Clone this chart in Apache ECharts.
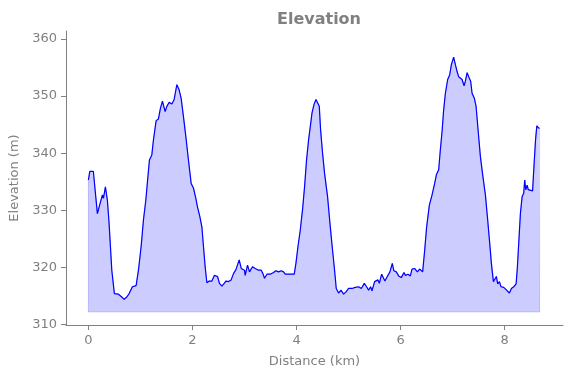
<!DOCTYPE html>
<html>
<head>
<meta charset="utf-8">
<script src="https://cdn.jsdelivr.net/npm/echarts@6/dist/echarts.min.js"></script>
<style>html,body{margin:0;padding:0;background:#fff}#c{width:571px;height:378px}</style>
</head>
<body>
<div id="c"></div>
<script>
const distanceKm = [0,0.027,0.096,0.173,0.225,0.27,0.29,0.327,0.365,0.398,0.45,0.5,0.577,0.642,0.687,0.738,0.783,0.82,0.846,0.917,0.962,1.013,1.058,1.104,1.135,1.173,1.219,1.25,1.302,1.346,1.385,1.423,1.456,1.475,1.508,1.552,1.604,1.648,1.7,1.744,1.783,1.827,1.873,1.923,1.975,2.019,2.065,2.096,2.142,2.181,2.212,2.244,2.277,2.321,2.373,2.423,2.481,2.519,2.565,2.61,2.642,2.692,2.744,2.788,2.835,2.86,2.898,2.937,3.0,3.013,3.058,3.096,3.129,3.154,3.206,3.269,3.321,3.354,3.385,3.431,3.494,3.558,3.604,3.654,3.706,3.75,3.783,3.846,3.91,3.956,3.988,4.027,4.071,4.115,4.154,4.192,4.231,4.269,4.296,4.335,4.373,4.404,4.437,4.462,4.5,4.538,4.552,4.596,4.642,4.692,4.731,4.763,4.808,4.854,4.904,4.95,5.0,5.065,5.129,5.192,5.244,5.302,5.346,5.385,5.423,5.45,5.5,5.565,5.59,5.635,5.673,5.698,5.744,5.794,5.84,5.87,5.917,5.962,6.013,6.065,6.09,6.142,6.187,6.219,6.269,6.321,6.365,6.423,6.462,6.5,6.552,6.604,6.654,6.687,6.731,6.763,6.796,6.827,6.86,6.904,6.942,6.975,7.019,7.052,7.085,7.115,7.148,7.181,7.219,7.244,7.277,7.308,7.346,7.373,7.417,7.45,7.488,7.533,7.577,7.615,7.629,7.673,7.712,7.744,7.783,7.821,7.84,7.865,7.898,7.929,7.981,8.027,8.065,8.09,8.129,8.173,8.219,8.244,8.269,8.302,8.335,8.365,8.385,8.404,8.431,8.452,8.481,8.535,8.565,8.592,8.617,8.654,8.67];
const elevationM = [335.3,336.8,336.8,329.4,331.2,332.7,332.1,334.1,331.8,327.7,319.5,315.4,315.3,314.8,314.4,314.8,315.4,315.7,316.6,316.8,319.5,323.6,328.3,331.8,335.0,338.8,339.7,342.3,345.7,346.0,347.9,349.1,348.8,347.3,348.2,348.9,348.6,349.4,352.0,351.1,349.6,346.4,342.9,338.8,334.7,333.9,332.1,330.6,328.9,327.1,323.6,320.1,317.3,317.6,317.6,318.6,318.4,317.2,316.7,317.2,317.6,317.5,317.8,318.9,319.6,319.8,321.3,319.8,319.5,318.6,320.4,319.2,319.5,320.1,319.8,319.5,319.5,318.9,318.1,318.8,318.8,319.1,319.4,319.2,319.4,319.2,318.8,318.8,318.8,318.8,320.7,323.6,326.5,330.1,334.1,338.8,342.3,345.0,347.0,348.5,349.4,349.5,348.2,344.1,340.0,336.5,336.8,332.4,327.7,323.0,319.5,316.3,315.5,316.0,315.3,315.7,316.3,316.3,316.5,316.6,316.3,317.2,316.6,316.0,316.6,315.9,317.5,317.8,317.2,318.8,318.8,317.6,318.4,319.2,320.7,319.4,319.2,318.5,318.2,319.1,318.6,318.8,318.5,319.7,319.8,319.2,319.7,319.2,323.0,327.1,330.9,332.7,334.7,336.2,337.1,340.6,343.8,347.6,350.5,352.9,353.7,355.5,356.8,355.5,354.3,353.4,353.7,352.9,351.8,352.6,354.1,353.4,352.6,350.5,349.6,348.2,344.1,339.4,336.2,333.6,332.7,328.3,324.2,320.7,317.5,317.8,318.4,317.1,317.5,316.6,316.5,316.1,316.0,315.5,316.3,316.6,317.1,320.1,324.2,329.5,332.4,333.0,335.3,333.6,334.4,333.6,333.6,333.4,338.2,342.3,344.8,344.4,344.4];
const xTicks = [0, 2, 4, 6, 8];
const yTicks = [310, 320, 330, 340, 350, 360];
const fillBase = 312.2;

const pts = distanceKm.map((d, i) => [d, elevationM[i]]);
const last = distanceKm.length - 1;
const edge = [[distanceKm[0], elevationM[0]], [distanceKm[0], fillBase], [distanceKm[last], fillBase], [distanceKm[last], elevationM[last]]];

const gray = '#808080';
const font = 'DejaVu Sans';
const chart = echarts.init(document.getElementById('c'), null, {renderer: 'canvas'});
chart.setOption({
  animation: false,
  backgroundColor: '#fff',
  title: {
    text: 'Elevation', left: 314, top: 7, textAlign: 'center',
    textStyle: {color: gray, fontFamily: font, fontWeight: 'bold', fontSize: 16}
  },
  grid: {left: 66, right: 8, top: 31, bottom: 53, containLabel: false},
  xAxis: {
    type: 'value', min: -0.43, max: 9.12,
    name: 'Distance (km)', nameLocation: 'middle', nameGap: 30,
    nameTextStyle: {color: gray, fontFamily: font, fontSize: 13},
    axisLine: {show: true, onZero: false, lineStyle: {color: gray, width: 1}},
    axisTick: {show: true, length: 5, lineStyle: {color: gray}, customValues: xTicks},
    axisLabel: {color: gray, fontFamily: font, fontSize: 13, margin: 9, customValues: xTicks},
    splitLine: {show: false}
  },
  yAxis: {
    type: 'value', min: 309.9, max: 361.4,
    name: 'Elevation (m)', nameLocation: 'middle', nameGap: 40, nameRotate: 90,
    nameTextStyle: {color: gray, fontFamily: font, fontSize: 13},
    axisLine: {show: true, onZero: false, lineStyle: {color: gray, width: 1}},
    axisTick: {show: true, length: 5, lineStyle: {color: gray}, customValues: yTicks},
    axisLabel: {color: gray, fontFamily: font, fontSize: 13, margin: 9, customValues: yTicks},
    splitLine: {show: false}
  },
  series: [
    {
      type: 'line', data: pts, showSymbol: false, symbol: 'none',
      lineStyle: {color: 'rgba(0,0,255,0.2)', width: 1},
      areaStyle: {color: 'rgba(0,0,255,0.2)', origin: fillBase, opacity: 1},
      z: 1
    },
    {
      type: 'line', data: edge, showSymbol: false, symbol: 'none',
      lineStyle: {color: 'rgba(0,0,255,0.2)', width: 1}, z: 2
    },
    {
      type: 'line', data: pts, showSymbol: false, symbol: 'none',
      lineStyle: {color: '#0000ff', width: 1.2}, z: 3
    }
  ]
});
</script>
</body>
</html>
